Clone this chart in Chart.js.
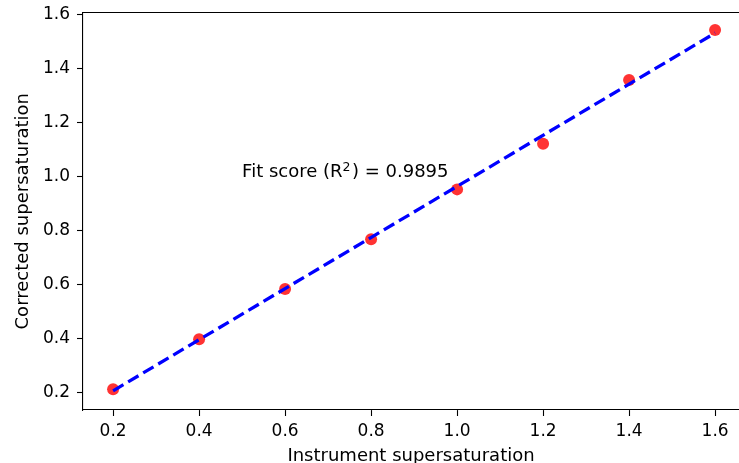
<!DOCTYPE html>
<html>
<head>
<meta charset="utf-8">
<script src="https://cdn.jsdelivr.net/npm/chart.js@4/dist/chart.umd.min.js"></script>
<style>
  html, body { margin: 0; padding: 0; background: #fff; overflow: hidden; }
  canvas { display: block; }
</style>
</head>
<body>
<canvas id="chart" width="739" height="463"></canvas>
<script>
// measured points
const instrumentSS = [0.2, 0.4, 0.6, 0.8, 1.0, 1.2, 1.4, 1.6];
const correctedSS = [0.214, 0.399, 0.585, 0.769, 0.954, 1.123, 1.359, 1.544];

// fitted line, end points
const fitX = [0.2, 1.6];
const fitY = [0.208, 1.533];

const xTicks = [0.2, 0.4, 0.6, 0.8, 1.0, 1.2, 1.4, 1.6];
const yTicks = [0.2, 0.4, 0.6, 0.8, 1.0, 1.2, 1.4, 1.6];

const fitScore = '0.9895';
const fitLabelAt = { x: 0.5, y: 1.0 };

const FONT = 'DejaVu Sans';
const TICK_FS = 17;
const LABEL_FS = 18;

// top spine + annotation (the right spine is cropped off in the original)
const boxPlugin = {
    id: 'box',
    afterDraw(chart) {
        const { ctx, chartArea: a, scales } = chart;
        ctx.save();
        ctx.strokeStyle = '#000';
        ctx.lineWidth = 1.1;
        ctx.beginPath();
        ctx.moveTo(a.left, a.top);
        ctx.lineTo(chart.width, a.top);
        ctx.stroke();

        // "Fit score (R^2) = ..." with a raised 2
        let x = scales.x.getPixelForValue(fitLabelAt.x);
        const y = scales.y.getPixelForValue(fitLabelAt.y);
        ctx.fillStyle = '#000';
        ctx.textAlign = 'left';
        ctx.textBaseline = 'alphabetic';
        const big = LABEL_FS + 'px "' + FONT + '"';
        const small = '12.5px "' + FONT + '"';
        const parts = [
            ['Fit score (R', big, 0],
            ['2', small, -6],
            [') = ' + fitScore, big, 0]
        ];
        parts.forEach(([t, f, dy]) => {
            ctx.font = f;
            ctx.fillText(t, x, y + dy);
            x += ctx.measureText(t).width + (dy ? 1.5 : 0);
        });
        ctx.restore();
    }
};

function axis(title, ticks, min, max, isY) {
    return {
        type: 'linear',
        min: min,
        max: max,
        afterBuildTicks(scale) {
            scale.ticks = ticks.map(v => ({ value: v }));
        },
        afterFit(scale) {
            if (isY) {
                scale.width = 83;
                scale.paddingTop = 0;
                scale.paddingBottom = 0;
            } else {
                scale.height = 53;
                scale.paddingLeft = 0;
                scale.paddingRight = 0;
            }
        },
        grid: {
            display: true,
            drawOnChartArea: false,
            drawTicks: true,
            tickLength: 6,
            tickWidth: 1.1,
            tickColor: '#000'
        },
        border: { display: true, color: '#000', width: 1.1 },
        ticks: {
            color: '#000',
            padding: isY ? 7 : 5,
            font: { family: FONT, size: TICK_FS },
            callback: v => Number(v).toFixed(1)
        },
        title: {
            display: true,
            text: title,
            color: '#000',
            font: { family: FONT, size: LABEL_FS },
            padding: isY ? { top: 13, bottom: 0 } : { top: 0, bottom: -4 }
        }
    };
}

new Chart(document.getElementById('chart'), {
    type: 'scatter',
    data: {
        datasets: [
            {
                label: 'fit',
                data: fitX.map((x, i) => ({ x: x, y: fitY[i] })),
                showLine: true,
                borderColor: '#0000ff',
                borderWidth: 3.3,
                borderDash: [12, 5.5],
                pointRadius: 0,
                fill: false,
                order: 0
            },
            {
                label: 'data',
                data: instrumentSS.map((x, i) => ({ x: x, y: correctedSS[i] })),
                backgroundColor: 'rgba(255, 0, 0, 0.8)',
                borderWidth: 0,
                pointRadius: 6,
                order: 1
            }
        ]
    },
    options: {
        responsive: false,
        animation: false,
        layout: {
            autoPadding: false,
            padding: { top: 12.5, right: 0, bottom: 0, left: 0 }
        },
        plugins: { legend: { display: false }, tooltip: { enabled: false } },
        scales: {
            // the plot is cut at the right edge of the picture
            x: axis('Instrument supersaturation', xTicks, 0.13, 1.6556, false),
            y: axis('Corrected supersaturation', yTicks, 0.137, 1.609, true)
        }
    },
    plugins: [boxPlugin]
});
</script>
</body>
</html>
